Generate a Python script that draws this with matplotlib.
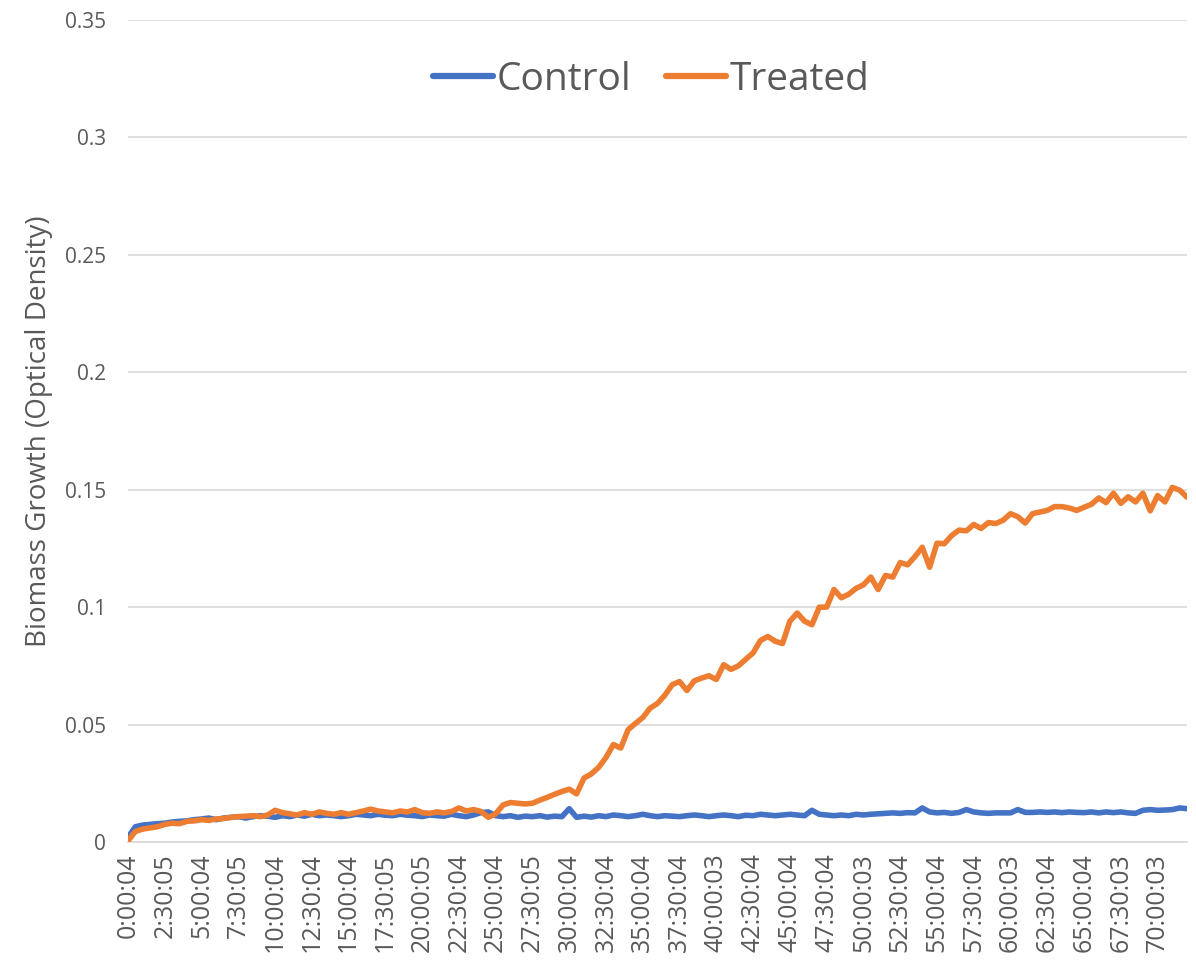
import matplotlib
matplotlib.use("Agg")
import matplotlib.pyplot as plt
import numpy as np

# ---- data (sampled every 30 min, category index) ----
tick_labels = ["0:00:04", "2:30:05", "5:00:04", "7:30:05", "10:00:04", "12:30:04",
               "15:00:04", "17:30:05", "20:00:05", "22:30:04", "25:00:04", "27:30:05",
               "30:00:04", "32:30:04", "35:00:04", "37:30:04", "40:00:03", "42:30:04",
               "45:00:04", "47:30:04", "50:00:03", "52:30:04", "55:00:04", "57:30:04",
               "60:00:03", "62:30:04", "65:00:04", "67:30:03", "70:00:03"]

control = [0.002, 0.0065, 0.0072, 0.0075, 0.0078, 0.008, 0.0085, 0.0088, 0.009, 0.0095,
           0.0098, 0.0102, 0.0095, 0.0102, 0.0105, 0.0108, 0.0102, 0.0108, 0.0112, 0.011,
           0.0105, 0.0112, 0.0108, 0.0115, 0.011, 0.0118, 0.0112, 0.0115, 0.0112, 0.0108,
           0.0112, 0.0118, 0.0115, 0.0112, 0.0118, 0.0114, 0.0112, 0.0118, 0.0114, 0.0112,
           0.0108, 0.0115, 0.0112, 0.011, 0.0118, 0.0112, 0.0108, 0.0115, 0.0125, 0.0128,
           0.0112, 0.0108, 0.0112, 0.0105, 0.011, 0.0108, 0.0112, 0.0106, 0.011, 0.0108,
           0.0142, 0.0105, 0.011, 0.0106, 0.0112, 0.0108, 0.0115, 0.0112, 0.0108, 0.0112,
           0.0118, 0.0112, 0.0108, 0.0112, 0.011, 0.0108, 0.0112, 0.0115, 0.0112, 0.0108,
           0.0112, 0.0115, 0.0112, 0.0108, 0.0114, 0.0112, 0.0118, 0.0115, 0.0112, 0.0115,
           0.0118, 0.0115, 0.0112, 0.0135, 0.0118, 0.0115, 0.0112, 0.0115, 0.0112, 0.0118,
           0.0115, 0.0118, 0.012, 0.0122, 0.0124, 0.0122, 0.0125, 0.0124, 0.0145, 0.0128,
           0.0124, 0.0126, 0.0122, 0.0126, 0.0138, 0.0128, 0.0124, 0.0122, 0.0124, 0.0124,
           0.0124, 0.0138, 0.0126, 0.0126, 0.0128, 0.0126, 0.0128, 0.0125, 0.0128, 0.0126,
           0.0125, 0.0128, 0.0124, 0.0128, 0.0125, 0.0128, 0.0124, 0.0122, 0.0135, 0.0138,
           0.0135, 0.0136, 0.0138, 0.0145, 0.0142]

treated = [0.0005, 0.0045, 0.0055, 0.006, 0.0065, 0.0075, 0.008, 0.0078, 0.0088, 0.009,
           0.0095, 0.0092, 0.0098, 0.010, 0.0105, 0.0108, 0.011, 0.0112, 0.0108, 0.0115,
           0.0135, 0.0125, 0.012, 0.0115, 0.0125, 0.0118, 0.0128, 0.0122, 0.0118, 0.0125,
           0.0118, 0.0125, 0.0132, 0.014, 0.0132, 0.0128, 0.0124, 0.0132, 0.0128, 0.0138,
           0.0125, 0.0122, 0.0128, 0.0124, 0.013, 0.0145, 0.0132, 0.0138, 0.013, 0.0105,
           0.012, 0.0158, 0.0168, 0.0165, 0.0162, 0.0165, 0.0178, 0.019, 0.0203, 0.0215,
           0.0225, 0.0205, 0.0272, 0.029, 0.0318, 0.036, 0.0415, 0.040, 0.0478, 0.0505,
           0.053, 0.057, 0.059, 0.0625, 0.067, 0.0683, 0.0645, 0.0686, 0.0698, 0.0708,
           0.0692, 0.0755, 0.0735, 0.075, 0.0778, 0.0805, 0.0858, 0.0875, 0.0855, 0.0845,
           0.094, 0.0975, 0.094, 0.0925, 0.1, 0.1, 0.1075, 0.104, 0.1055, 0.108,
           0.1095, 0.1128, 0.1075, 0.1135, 0.1128, 0.119, 0.118, 0.1215, 0.1255, 0.117,
           0.1272, 0.127, 0.1305, 0.1328, 0.1325, 0.1352, 0.1335, 0.136, 0.1356, 0.137,
           0.1398, 0.1385, 0.1358, 0.1398, 0.1405, 0.1412, 0.1428, 0.1428, 0.1422, 0.1412,
           0.1425, 0.1438, 0.1465, 0.1445, 0.1485, 0.1442, 0.147, 0.1448, 0.1485, 0.141,
           0.1475, 0.1448, 0.151, 0.1498, 0.1468]

y_ticks = [0, 0.05, 0.1, 0.15, 0.2, 0.25, 0.3, 0.35]
y_tick_labels = ["0", "0.05", "0.1", "0.15", "0.2", "0.25", "0.3", "0.35"]

# ---- style ----
plt.rcParams['font.family'] = ['Open Sans', 'DejaVu Sans']
text_col = "#595959"
grid_col = "#D9D9D9"
blue = "#4472C4"
orange = "#ED7D31"

fig = plt.figure(figsize=(11.96, 9.65), dpi=100)
ax = fig.add_axes([128 / 1196, 1 - 842 / 965, (1187 - 128) / 1196, (842 - 20) / 965])

x_c = np.arange(len(control))
x_t = np.arange(len(treated))
ax.plot(x_c, control, color=blue, lw=4.0, solid_joinstyle='round', solid_capstyle='round',
        label="Control", zorder=3)
ax.plot(x_t, treated, color=orange, lw=4.0, solid_joinstyle='round', solid_capstyle='round',
        label="Treated", zorder=4)

n = max(len(control), len(treated))
ax.set_xlim(0, n - 1)
ax.set_ylim(0, 0.35)

ax.set_yticks(y_ticks)
ax.set_yticklabels(y_tick_labels)
ax.set_xticks(np.arange(len(tick_labels)) * 5)
ax.set_xticklabels(tick_labels, rotation=90)

ax.grid(axis='y', color=grid_col, lw=1.2)
ax.set_axisbelow(True)
for s in ['top', 'right', 'left']:
    ax.spines[s].set_visible(False)
ax.spines['bottom'].set_color(grid_col)
ax.spines['bottom'].set_linewidth(1.2)
ax.spines['bottom'].set_zorder(1)

ax.tick_params(axis='y', length=0, pad=16, labelsize=15, labelcolor=text_col)
ax.tick_params(axis='x', length=0, pad=8, labelsize=18, labelcolor=text_col)

ax.set_ylabel("Biomass Growth (Optical Density)", fontsize=20, color=text_col)
ax.yaxis.set_label_coords(-0.071, 0.5)

leg = ax.legend(loc='center', bbox_to_anchor=(0.494, 0.927), ncol=2, frameon=False,
                fontsize=28, handlelength=1.55, handletextpad=0.08, columnspacing=0.9,
                labelcolor=text_col)
for line in leg.get_lines():
    line.set_linewidth(4.5)

fig.savefig("out.png", dpi=100)
